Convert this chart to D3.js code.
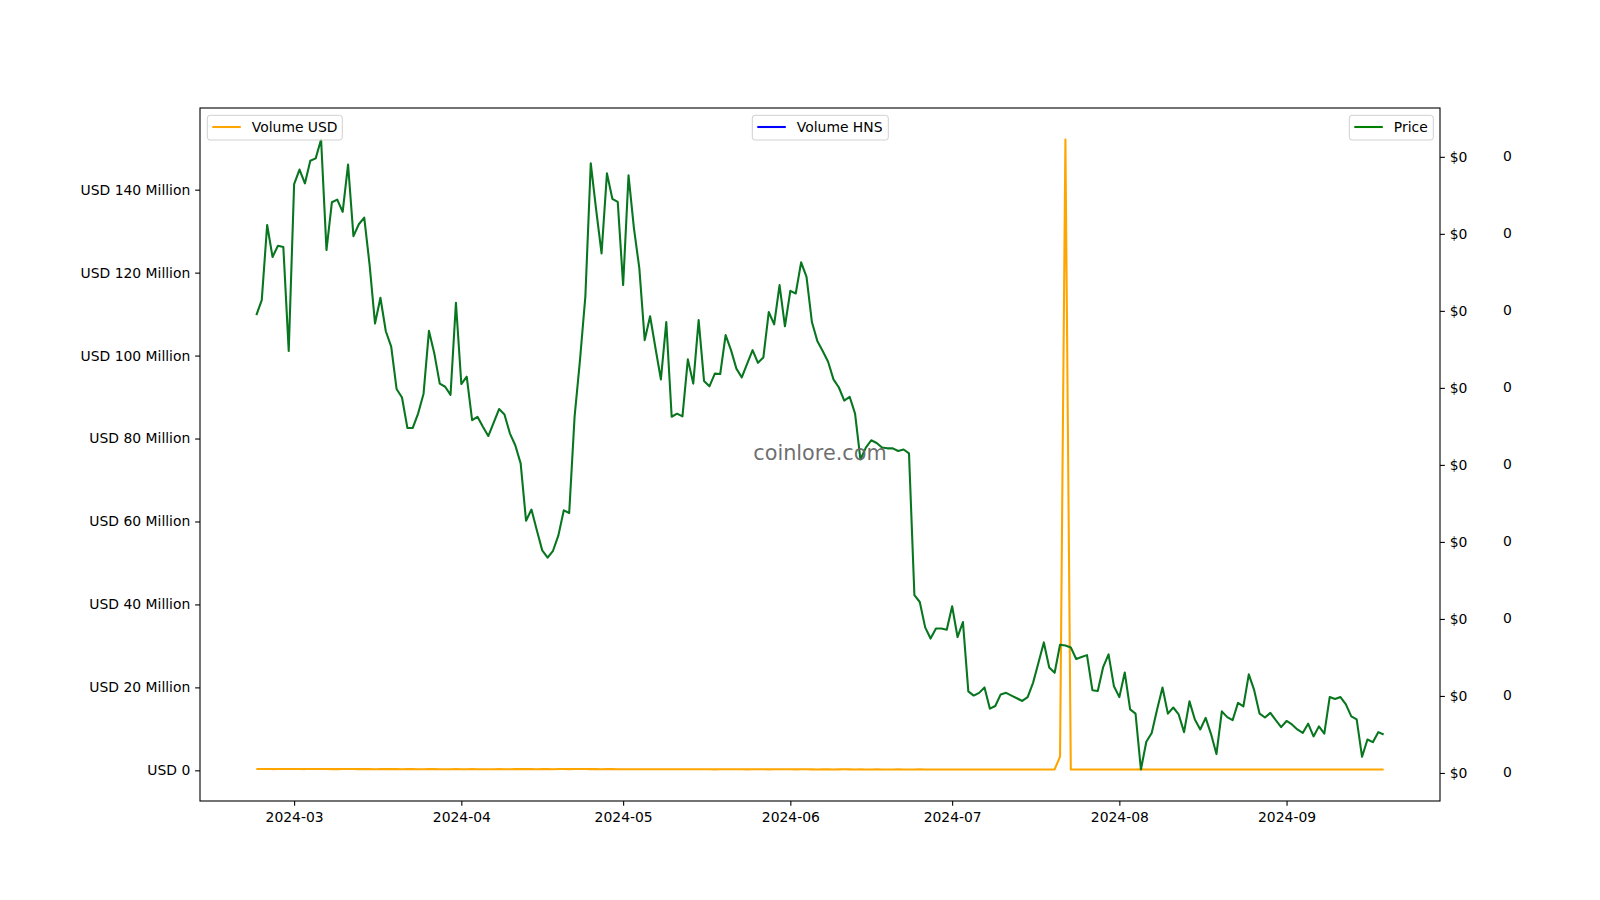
<!DOCTYPE html>
<html><head><meta charset="utf-8">
<script src="https://cdn.jsdelivr.net/npm/d3@7"></script>
<style>
body{margin:0;background:#fff}
text{font-family:"DejaVu Sans",sans-serif}
</style>
</head><body>
<svg id="chart" width="1600" height="900"></svg>
<script>
// ---------- DATA ----------
const startDate = "2024-02-23"; // daily series, one value per day
const priceFeb = [0.01989,0.02028,0.02223,0.02140,0.02169,0.02166,0.01896];
const priceMar = [0.02329,0.02367,0.02331,0.02390,0.02396,0.02445,0.02158,0.02282,0.02289,0.02257,0.02380,0.02194,0.02225,0.02242,0.02119,0.01967,0.02034,0.01947,0.01907,0.01797,0.01775,0.01696,0.01696,0.01734,0.01785,0.01948,0.01889,0.01811,0.01803,0.01782,0.02021];
const priceApr = [0.01810,0.01829,0.01716,0.01725,0.01699,0.01675,0.01710,0.01745,0.01731,0.01682,0.01651,0.01604,0.01455,0.01484,0.01430,0.01378,0.01359,0.01377,0.01417,0.01482,0.01475,0.01725,0.01872,0.02038,0.02383,0.02262,0.02149,0.02357,0.02291,0.02283];
const priceMay = [0.02067,0.02352,0.02215,0.02111,0.01924,0.01986,0.01903,0.01822,0.01971,0.01725,0.01733,0.01726,0.01874,0.01811,0.01976,0.01818,0.01804,0.01837,0.01836,0.01937,0.01898,0.01850,0.01827,0.01863,0.01898,0.01865,0.01879,0.01997,0.01965,0.02067,0.01960];
const priceJun = [0.02052,0.02045,0.02126,0.02088,0.01971,0.01922,0.01896,0.01868,0.01822,0.01801,0.01767,0.01777,0.01733,0.01614,0.01645,0.01664,0.01657,0.01645,0.01643,0.01643,0.01636,0.01640,0.01630,0.01262,0.01244,0.01178,0.01149,0.01175,0.01175,0.01172];
const priceJul = [0.01233,0.01153,0.01192,0.01012,0.01001,0.01008,0.01022,0.00967,0.00974,0.01004,0.01008,0.01001,0.00994,0.00987,0.00997,0.01034,0.01086,0.01139,0.01074,0.01060,0.01133,0.01131,0.01126,0.01096,0.01101,0.01106,0.01015,0.01013,0.01075,0.01108,0.01025];
const priceAug = [0.00997,0.01061,0.00965,0.00954,0.00809,0.00881,0.00904,0.00965,0.01022,0.00954,0.00970,0.00952,0.00906,0.00986,0.00939,0.00913,0.00943,0.00901,0.00849,0.00960,0.00945,0.00937,0.00982,0.00973,0.01056,0.01015,0.00954,0.00944,0.00956,0.00937,0.00919];
const priceSep = [0.00935,0.00926,0.00913,0.00904,0.00928,0.00895,0.00921,0.00902,0.00997,0.00992,0.00997,0.00978,0.00947,0.00939,0.00842,0.00887,0.00880,0.00906,0.00900];

// Volume USD, in millions
const volFeb = [0.31,0.32,0.34,0.30,0.31,0.33,0.32];
const volMar = [0.33,0.31,0.30,0.32,0.34,0.33,0.31,0.30,0.29,0.31,0.32,0.30,0.29,0.31,0.30,0.28,0.29,0.30,0.31,0.29,0.28,0.30,0.29,0.28,0.27,0.29,0.30,0.28,0.27,0.28,0.29];
const volApr = [0.28,0.27,0.29,0.28,0.27,0.26,0.28,0.29,0.27,0.28,0.29,0.30,0.31,0.29,0.28,0.30,0.29,0.28,0.30,0.31,0.29,0.32,0.33,0.31,0.30,0.29,0.28,0.30,0.29,0.28];
const volMay = [0.27,0.28,0.26,0.27,0.25,0.26,0.27,0.25,0.26,0.24,0.25,0.26,0.25,0.24,0.26,0.25,0.24,0.23,0.25,0.24,0.26,0.25,0.24,0.23,0.24,0.25,0.24,0.23,0.24,0.25,0.24];
const volJun = [0.24,0.23,0.25,0.24,0.23,0.22,0.24,0.23,0.22,0.23,0.24,0.23,0.22,0.23,0.22,0.21,0.23,0.22,0.21,0.22,0.23,0.22,0.21,0.22,0.23,0.22,0.21,0.22,0.21,0.22];
const volJul = [0.21,0.22,0.21,0.20,0.22,0.21,0.20,0.21,0.22,0.21,0.20,0.21,0.22,0.21,0.20,0.21,0.22,0.21,0.20,0.22,3.3,152.1,0.22,0.21,0.20,0.21,0.22,0.21,0.20,0.21,0.22];
const volAug = [0.21,0.20,0.22,0.21,0.23,0.22,0.21,0.20,0.21,0.22,0.20,0.21,0.22,0.21,0.20,0.21,0.22,0.21,0.20,0.21,0.22,0.21,0.20,0.21,0.22,0.21,0.20,0.21,0.22,0.21,0.20];
const volSep = [0.21,0.20,0.21,0.22,0.21,0.20,0.21,0.20,0.21,0.22,0.21,0.20,0.21,0.22,0.21,0.20,0.21,0.20,0.21];

const xTickLabels = ["2024-03","2024-04","2024-05","2024-06","2024-07","2024-08","2024-09"];
const volTicks = [0,20,40,60,80,100,120,140];
const volTickLabels = ["USD 0","USD 20 Million","USD 40 Million","USD 60 Million","USD 80 Million","USD 100 Million","USD 120 Million","USD 140 Million"];
const priceTicks = [0.008,0.010,0.012,0.014,0.016,0.018,0.020,0.022,0.024];
const priceTickLabels = ["$0","$0","$0","$0","$0","$0","$0","$0","$0"];
const hnsTickLabels = ["0","0","0","0","0","0","0","0","0"];
const legendLabels = ["Volume USD","Volume HNS","Price"];
const watermark = "coinlore.com";

// ---------- BUILD ----------
const prices = [].concat(priceFeb,priceMar,priceApr,priceMay,priceJun,priceJul,priceAug,priceSep);
const volumes = [].concat(volFeb,volMar,volApr,volMay,volJun,volJul,volAug,volSep);
const t0 = d3.utcParse("%Y-%m-%d")(startDate);
const dates = prices.map((_, i) => d3.utcDay.offset(t0, i));

const L = 200, R = 1440, T = 108, B = 801;
const FS = 13.9;
const svg = d3.select("#chart");
svg.append("rect").attr("width",1600).attr("height",900).attr("fill","#fff");

function withMargin(ext){ const s = ext[1]-ext[0]; return [ext[0]-0.05*s, ext[1]+0.05*s]; }
const dExt = d3.extent(dates);
const dSpan = dExt[1]-dExt[0];
const x = d3.scaleUtc().domain([new Date(+dExt[0]-0.05*dSpan), new Date(+dExt[1]+0.05*dSpan)]).range([L,R]);
const yV = d3.scaleLinear().domain(withMargin(d3.extent(volumes))).range([B,T]);
const yP = d3.scaleLinear().domain(withMargin(d3.extent(prices))).range([B,T]);

const tick = 4.86, pad = 4.86;

// lines
const g = svg.append("g");
g.append("path").datum(volumes)
  .attr("fill","none").attr("stroke","#FFA500").attr("stroke-width",2.08)
  .attr("stroke-linejoin","round")
  .attr("d", d3.line().x((d,i)=>x(dates[i])).y(d=>yV(d)));
g.append("path").datum(prices)
  .attr("fill","none").attr("stroke","#08761f").attr("stroke-width",2.08)
  .attr("stroke-linejoin","round")
  .attr("d", d3.line().x((d,i)=>x(dates[i])).y(d=>yP(d)));

// watermark
svg.append("text").attr("x",(L+R)/2).attr("y",(T+B)/2 - 2)
  .attr("text-anchor","middle").attr("dominant-baseline","central")
  .attr("font-size",20.8).attr("fill","#666").attr("fill-opacity",0.95)
  .text(watermark);

// axes
const xTickDates = xTickLabels.map(s => d3.utcParse("%Y-%m")(s));
const xAxis = d3.axisBottom(x).tickValues(xTickDates).tickSize(tick).tickPadding(pad)
  .tickFormat((d,i)=>xTickLabels[i]);
const gx = svg.append("g").attr("transform",`translate(0,${B})`).call(xAxis);
gx.selectAll("text").attr("dy", "11.5px");

const yAxisL = d3.axisLeft(yV).tickValues(volTicks).tickSize(tick).tickPadding(pad)
  .tickFormat((d,i)=>volTickLabels[i]);
const gyl = svg.append("g").attr("transform",`translate(${L},0)`).call(yAxisL);

const yAxisR = d3.axisRight(yP).tickValues(priceTicks).tickSize(tick).tickPadding(pad)
  .tickFormat((d,i)=>priceTickLabels[i]);
const gyr = svg.append("g").attr("transform",`translate(${R},0)`).call(yAxisR);

[gx,gyl,gyr].forEach(a=>{
  a.select(".domain").remove();
  a.selectAll("text").attr("font-size",FS).attr("fill","#000").attr("font-family","DejaVu Sans");
  a.selectAll("line").attr("stroke","#000").attr("stroke-width",1.1);
});

// third axis labels (Volume HNS)
svg.append("g").selectAll("text").data(priceTicks).join("text")
  .attr("x",1503).attr("y",d=>yP(d)).attr("dy","0.32em")
  .attr("font-size",FS).attr("fill","#000")
  .text((d,i)=>hnsTickLabels[i]);

// frame
svg.append("rect").attr("x",L).attr("y",T).attr("width",R-L).attr("height",B-T)
  .attr("fill","none").attr("stroke","#000").attr("stroke-width",1.1);

// legends
const legendColors = ["#FFA500","#0000FF","#008000"];
const legendBoxes = [
  {x:207.3, w:135},
  {x:752.3, w:136},
  {x:1349.3, w:84}
];
legendLabels.forEach((lab,i)=>{
  const b = legendBoxes[i];
  const lg = svg.append("g");
  lg.append("rect").attr("x",b.x).attr("y",115.3).attr("width",b.w).attr("height",24.7)
    .attr("rx",2.8).attr("fill","#fff").attr("fill-opacity",0.8)
    .attr("stroke","#d0d0d0").attr("stroke-width",1);
  lg.append("line").attr("x1",b.x+5).attr("x2",b.x+33.5).attr("y1",127).attr("y2",127)
    .attr("stroke",legendColors[i]).attr("stroke-width",2.08);
  lg.append("text").attr("x",b.x+44.5).attr("y",127).attr("dy","0.36em")
    .attr("font-size",FS).attr("fill","#000").text(lab);
});
</script>
</body></html>
